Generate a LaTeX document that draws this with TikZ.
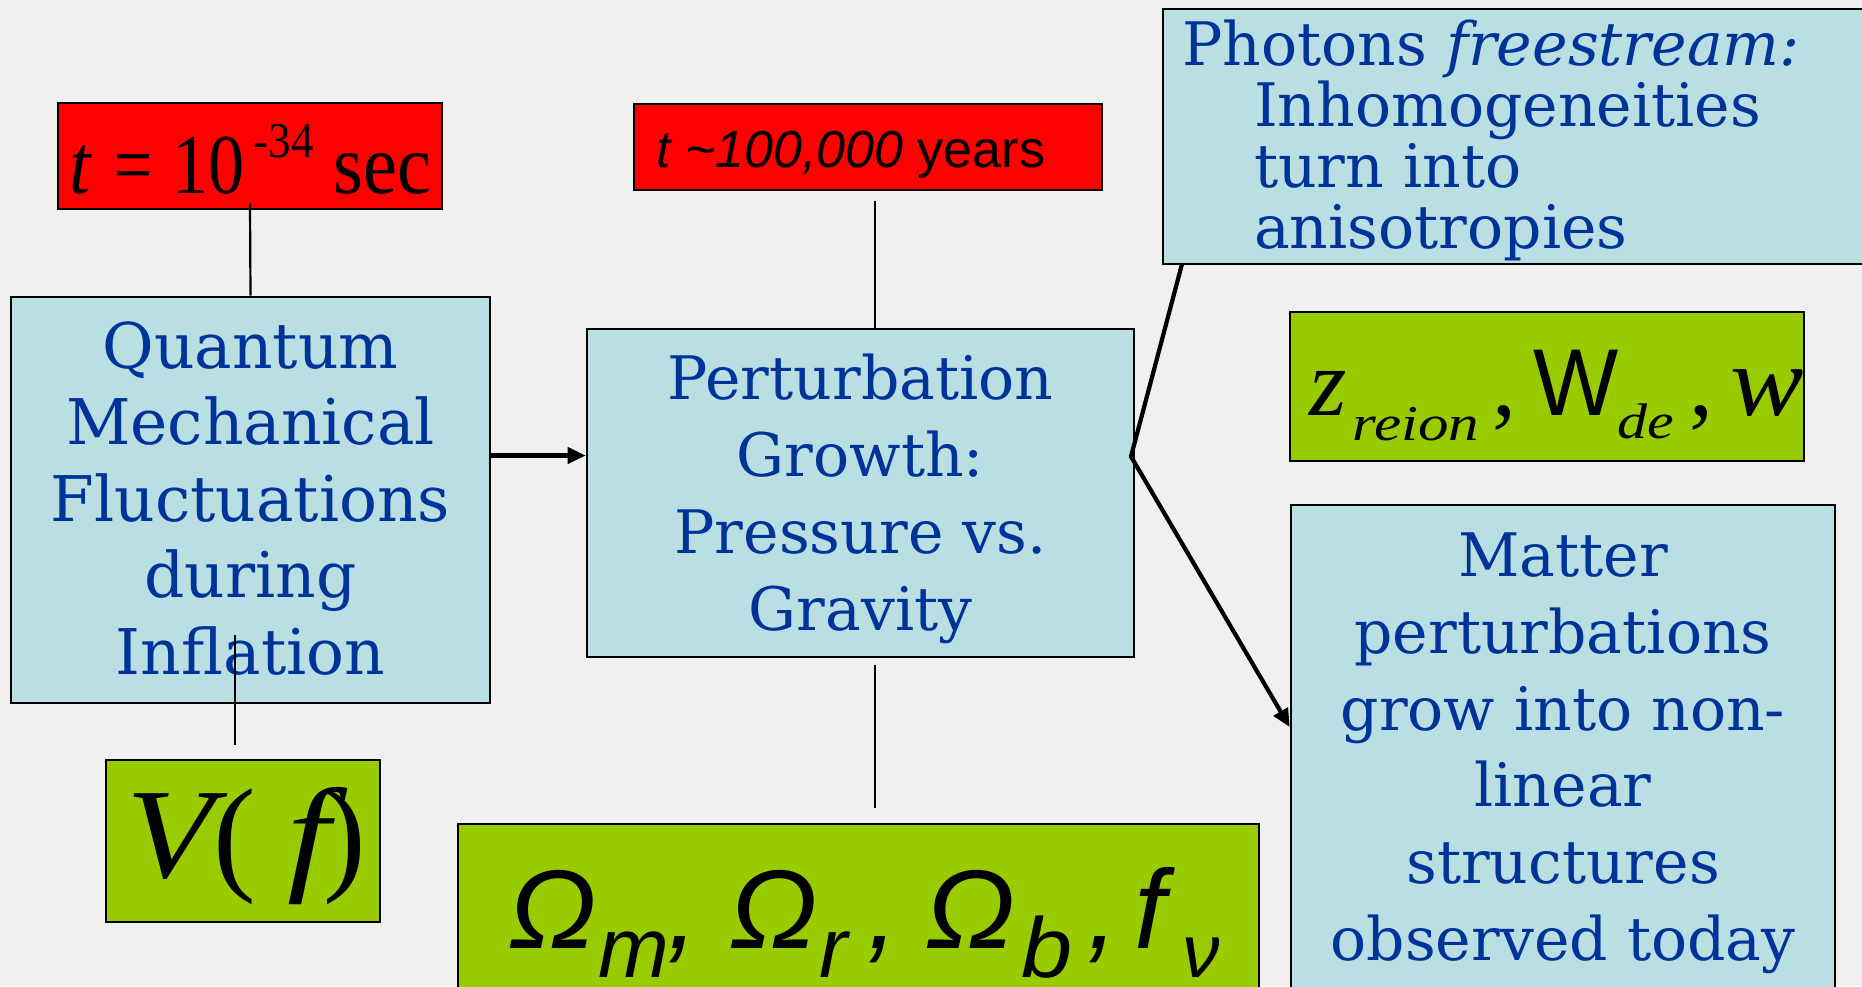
\documentclass[tikz,border=0pt]{standalone}
\usepackage{fontspec}
\usepackage{graphicx}
\usetikzlibrary{arrows.meta}
\newfontfamily\dvserif{DejaVu Serif}
\newfontfamily\libserif{Liberation Serif}
\newfontfamily\libsans{Liberation Sans}
\definecolor{bgcol}{RGB}{240,240,239}
\definecolor{boxblue}{RGB}{185,223,226}
\definecolor{txtblue}{RGB}{0,51,153}
\definecolor{limefill}{RGB}{153,204,0}
\definecolor{redfill}{RGB}{255,0,0}
\tikzset{
  boxbase/.style={rectangle, draw=black, line width=2.6pt, inner sep=0pt},
  bluebox/.style={boxbase, fill=boxblue},
  redbox/.style={boxbase, fill=redfill},
  greenbox/.style={boxbase, fill=limefill},
  bluetext/.style={text=txtblue, inner sep=0pt},
  mathtext/.style={inner sep=0pt, anchor=base west, text=black},
  thinline/.style={line width=2.2pt, black},
  conn/.style={line width=4.2pt, black, line join=miter},
  arr/.style={conn, -{Triangle[length=18pt,width=16pt]}},
}
\begin{document}
\begin{tikzpicture}[x=1pt,y=-1pt]
\clip (0,0) rectangle (1862,986);
\fill[bgcol] (0,0) rectangle (1862,986);

% boxes
\node[redbox, minimum width=384pt, minimum height=106pt] (red1) at (250,156) {};
\node[redbox, minimum width=468pt, minimum height=86pt] (red2) at (868,147) {};
\node[bluebox, minimum width=479pt, minimum height=406pt] (qm) at (250.5,500) {};
\node[greenbox, minimum width=274pt, minimum height=162pt] (vf) at (243,841) {};
\node[bluebox, minimum width=547pt, minimum height=328pt] (pg) at (860.5,493) {};
\node[greenbox, minimum width=801pt, minimum height=186pt] (om) at (858.5,917) {};
\node[bluebox, minimum width=727pt, minimum height=255pt] (ph) at (1526.5,136.5) {};
\node[greenbox, minimum width=514pt, minimum height=149pt] (zr) at (1547,386.5) {};
\node[bluebox, minimum width=544pt, minimum height=505pt] (mt) at (1563,757.5) {};

% blue texts
\node[bluetext, font={\dvserif\fontsize{63}{76.5}\selectfont}, align=center] (qmt) at (250.5,498.5)
  {Quantum\\Mechanical\\Fluctuations\\during\\Inflation};
\node[bluetext, font={\dvserif\fontsize{60}{77}\selectfont}, align=center] (pgt) at (860.5,498.8)
  {Perturbation\\Growth:\\Pressure vs.\\Gravity};
\node[bluetext, font={\dvserif\fontsize{60}{76.8}\selectfont}, align=center] (mtt) at (1563,753.2)
  {Matter\\perturbations\\grow into non-\\linear\\structures\\observed today};
\node[bluetext, font={\dvserif\fontsize{60}{61}\selectfont}, align=left, anchor=west] (pht) at (1182,140)
  {Photons \textit{freestream:}\\\hspace*{72pt}Inhomogeneities\\\hspace*{72pt}turn into\\\hspace*{72pt}anisotropies};

% math texts
\node[mathtext] (red1t) at (69,193)
  {\libserif\fontsize{85}{85}\selectfont
   \rlap{\scalebox{0.9}[1]{\itshape t}}%
   \rlap{\hspace*{45pt}\scalebox{0.8}[1]{=}}%
   \rlap{\hspace*{103pt}\scalebox{0.85}[1]{10}}%
   \rlap{\hspace*{184pt}\raisebox{36pt}{\fontsize{50}{50}\selectfont\scalebox{0.9}[1]{-34}}}%
   \rlap{\hspace*{264pt}\scalebox{0.9}[1]{sec}}};
\node[mathtext, font={\libsans\fontsize{52}{52}\selectfont}] (red2t) at (656,167)
  {\textit{t \textasciitilde 100,000} years};
\node[mathtext] (vft) at (124,877)
  {\libserif\fontsize{128}{128}\selectfont
   \rlap{\hspace*{2pt}\scalebox{1.12}[1]{\itshape V}}%
   \rlap{\hspace*{89pt}(}%
   \rlap{\hspace*{163pt}\scalebox{1.2}[1]{\itshape f}}%
   \rlap{\hspace*{199pt})}};
\node[mathtext] (zrt) at (1308,415)
  {\libserif\itshape
   \rlap{\hspace*{1pt}\fontsize{96}{96}\selectfont z}%
   \rlap{\hspace*{44pt}\raisebox{-25pt}{\fontsize{50}{50}\selectfont\scalebox{1.22}[1]{reion}}}%
   \rlap{\hspace*{184pt}\upshape\fontsize{96}{96}\selectfont ,}%
   \rlap{\hspace*{225pt}\libsans\upshape\fontsize{95}{95}\selectfont\scalebox{0.95}[1]{W}}%
   \rlap{\hspace*{309pt}\raisebox{-23pt}{\fontsize{50}{50}\selectfont\scalebox{1.2}[1]{de}}}%
   \rlap{\hspace*{381pt}\upshape\fontsize{96}{96}\selectfont ,}%
   \rlap{\hspace*{422pt}\fontsize{100}{100}\selectfont\scalebox{1.1}[1]{w}}};
\node[mathtext] (omt) at (508,948)
  {\libsans\itshape
   \rlap{\fontsize{112}{112}\selectfont\scalebox{1.04}[1]{Ω}}%
   \rlap{\hspace*{90pt}\raisebox{-29pt}{\fontsize{85}{85}\selectfont m}}%
   \rlap{\hspace*{159pt}\fontsize{112}{112}\selectfont ,}%
   \rlap{\hspace*{221pt}\fontsize{112}{112}\selectfont\scalebox{1.04}[1]{Ω}}%
   \rlap{\hspace*{311pt}\raisebox{-29pt}{\fontsize{85}{85}\selectfont r}}%
   \rlap{\hspace*{359pt}\fontsize{112}{112}\selectfont ,}%
   \rlap{\hspace*{417pt}\fontsize{112}{112}\selectfont\scalebox{1.06}[1]{Ω}}%
   \rlap{\hspace*{513pt}\raisebox{-29pt}{\fontsize{85}{85}\selectfont\scalebox{1.08}[1]{b}}}%
   \rlap{\hspace*{579pt}\fontsize{112}{112}\selectfont ,}%
   \rlap{\hspace*{626pt}\fontsize{112}{112}\selectfont f}%
   \rlap{\hspace*{674pt}\raisebox{-29pt}{\fontsize{75}{75}\selectfont ν}}};

% connectors
\coordinate (ay) at (0,455.5);
\coordinate (r2a) at (875,201);
\coordinate (pga) at (875,665);
\coordinate (pgb) at (875,808);
\coordinate (qva) at (235,635);
\coordinate (qvb) at (235,745);
\coordinate (phf) at (1182,264);
\coordinate (jn) at (1131,456.5);
\coordinate (mty) at (0,727);

\draw[thinline] ([yshift=7pt]red1.south) -- (qm.north);
\draw[thinline] (r2a) -- (r2a |- pg.north);
\draw[thinline] (pga) -- (pgb);
\draw[thinline] (qva) -- (qvb);
\draw[arr] (qm.east |- ay) -- (pg.west |- ay);
\draw[arr] (phf) -- (jn) -- (mt.west |- mty);
\end{tikzpicture}
\end{document}
